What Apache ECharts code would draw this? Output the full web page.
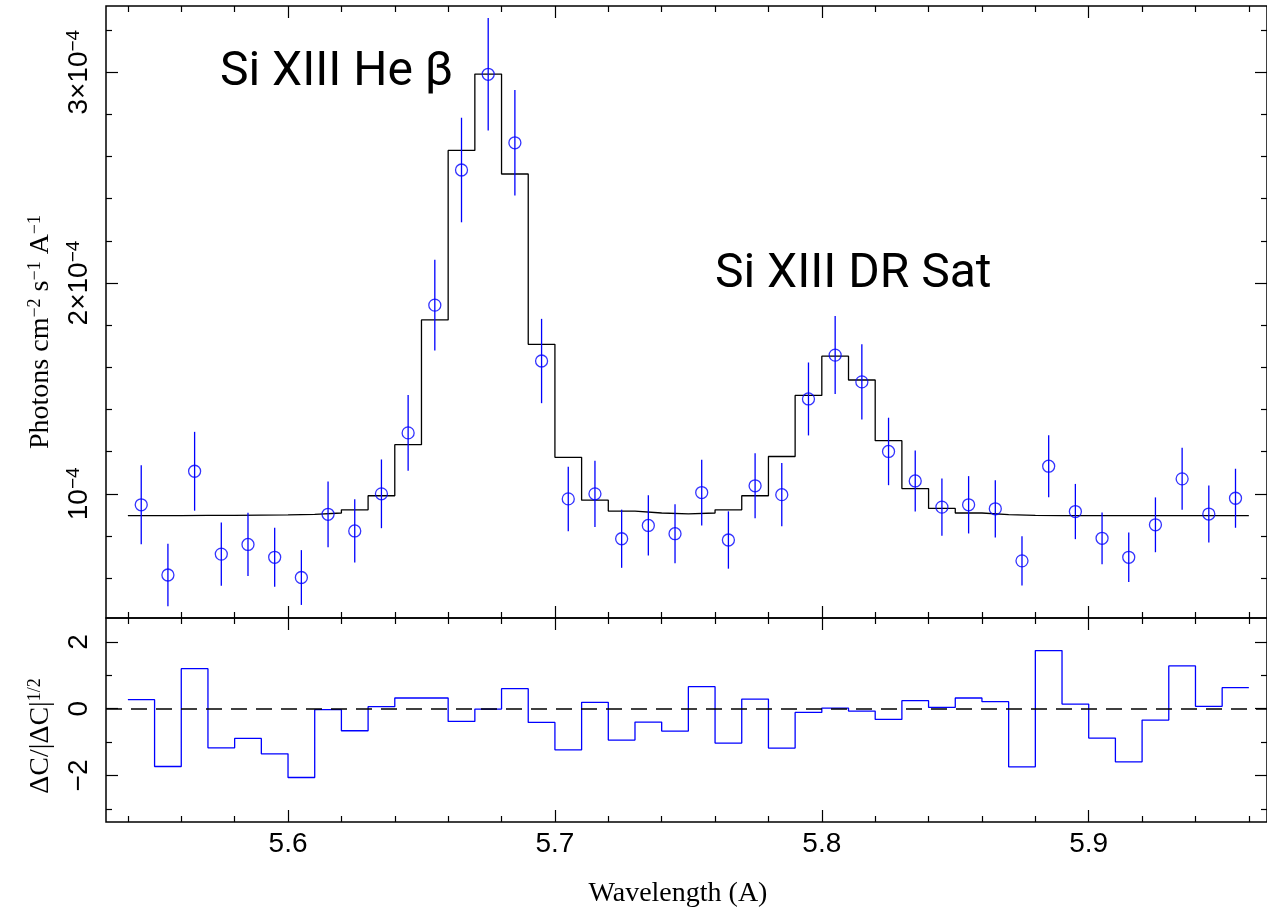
<!DOCTYPE html>
<html><head><meta charset="utf-8">
<script src="https://cdn.jsdelivr.net/npm/echarts@6/dist/echarts.min.js"></script>
<style>html,body{margin:0;padding:0;background:#fff}#c{width:1267px;height:912px}</style>
</head><body><div id="c"></div>
<script>
// ---------- data (flux in units of 1e-4 photons cm^-2 s^-1 A^-1) ----------
const binEdges = [5.54,5.55,5.56,5.57,5.58,5.59,5.60,5.61,5.62,5.63,5.64,5.65,5.66,5.67,5.68,5.69,5.70,5.71,5.72,5.73,5.74,5.75,5.76,5.77,5.78,5.79,5.80,5.81,5.82,5.83,5.84,5.85,5.86,5.87,5.88,5.89,5.90,5.91,5.92,5.93,5.94,5.95,5.96];
const wavelength = [5.545,5.555,5.565,5.575,5.585,5.595,5.605,5.615,5.625,5.635,5.645,5.655,5.665,5.675,5.685,5.695,5.705,5.715,5.725,5.735,5.745,5.755,5.765,5.775,5.785,5.795,5.805,5.815,5.825,5.835,5.845,5.855,5.865,5.875,5.885,5.895,5.905,5.915,5.925,5.935,5.945,5.955];
const flux = [0.948,0.615,1.107,0.714,0.760,0.699,0.603,0.903,0.824,1.000,1.289,1.895,2.536,2.990,2.665,1.630,0.976,1.000,0.787,0.850,0.811,1.006,0.781,1.038,0.996,1.450,1.658,1.531,1.201,1.061,0.937,0.948,0.929,0.682,1.131,0.916,0.789,0.699,0.853,1.071,0.904,0.979];
const fluxErr = [0.187,0.148,0.187,0.150,0.150,0.140,0.130,0.156,0.150,0.163,0.180,0.215,0.248,0.267,0.250,0.200,0.153,0.157,0.138,0.143,0.140,0.156,0.136,0.154,0.150,0.173,0.185,0.178,0.160,0.145,0.136,0.136,0.136,0.117,0.147,0.131,0.123,0.117,0.130,0.147,0.135,0.140];
const model = [0.897,0.897,0.898,0.898,0.899,0.900,0.903,0.909,0.924,0.991,1.233,1.825,2.629,2.991,2.517,1.709,1.173,0.970,0.918,0.909,0.905,0.909,0.924,0.991,1.177,1.467,1.653,1.540,1.252,1.025,0.931,0.909,0.901,0.898,0.897,0.897,0.897,0.897,0.897,0.897,0.897,0.897];
const residual = [0.27,-1.73,1.20,-1.17,-0.89,-1.35,-2.06,-0.03,-0.66,0.06,0.32,0.32,-0.38,-0.01,0.60,-0.41,-1.23,0.19,-0.94,-0.40,-0.67,0.66,-1.03,0.29,-1.18,-0.11,0.02,-0.07,-0.32,0.24,0.04,0.32,0.21,-1.74,1.74,0.14,-0.88,-1.59,-0.34,1.28,0.07,0.63];

// ---------- ticks ----------
const xMajorTicks = [5.6,5.7,5.8,5.9];
const xMinorTicks = [5.54,5.56,5.58,5.62,5.64,5.66,5.68,5.72,5.74,5.76,5.78,5.82,5.84,5.86,5.88,5.92,5.94,5.96];
const fluxMajorTicks = [1,2,3];
const fluxMinorTicks = [0.6,0.8,1.2,1.4,1.6,1.8,2.2,2.4,2.6,2.8,3.2];
const residMajorTicks = [-2,0,2];
const residMinorTicks = [-3,-1,1];
const fluxExponent = '−4';

const X_MIN = 5.5318, X_MAX = 5.9668;
const FLUX_MIN = 0.411, FLUX_MAX = 3.314;
const RES_MIN = -3.392, RES_MAX = 2.716;

const SANS = 'Liberation Sans', SERIF = 'Liberation Serif';
const BLUE = '#0000ff';
const tickStyle = {color:'#000', width:1.2};

function xAxisDef(grid, position, ticks, len, label) {
  const a = {type:'value', gridIndex:grid, position, min:X_MIN, max:X_MAX,
    axisLine:{show:false, onZero:false}, splitLine:{show:false},
    axisTick:{show:true, inside:true, length:len, customValues:ticks, lineStyle:tickStyle},
    axisLabel:{show:false}};
  if (label) a.axisLabel = {show:true, customValues:ticks, margin:8, color:'#000',
    fontFamily:SANS, fontSize:28, formatter:v=>v.toFixed(1)};
  return a;
}
function yAxisDef(grid, position, min, max, ticks, len, label) {
  const a = {type:'value', gridIndex:grid, position, min, max,
    axisLine:{show:false, onZero:false}, splitLine:{show:false},
    axisTick:{show:true, inside:true, length:len, customValues:ticks, lineStyle:tickStyle},
    axisLabel:{show:false}};
  if (label) a.axisLabel = Object.assign({show:true, customValues:ticks, margin:12, rotate:90}, label);
  return a;
}
const richLabel = {
  m:{fontFamily:SANS, fontSize:28, color:'#000', lineHeight:30},
  s:{fontFamily:SANS, fontSize:19, color:'#000', lineHeight:19, verticalAlign:'top'}
};
const fluxLabel = {formatter:v=>{const n=Math.round(v); return n===1?`{m|10}{s|${fluxExponent}}`:`{m|${n}×10}{s|${fluxExponent}}`;}, rich:richLabel};
const residLabel = {formatter:v=>{const n=Math.round(v); return `{m|${n<0?'−'+Math.abs(n):n}}`;}, rich:richLabel};

const gridStyle = {show:true, borderColor:'#000', borderWidth:1.5, backgroundColor:'transparent', outerBoundsMode:'none', containLabel:false};

const chart = echarts.init(document.getElementById('c'), null, {renderer:'canvas'});
chart.setOption({
  animation:false,
  backgroundColor:'#fff',
  grid:[
    Object.assign({left:106, top:6, width:1161, height:612}, gridStyle),
    Object.assign({left:106, top:618, width:1161, height:204}, gridStyle)
  ],
  xAxis:[
    xAxisDef(0,'bottom',xMajorTicks,12,false),
    xAxisDef(0,'bottom',xMinorTicks,6,false),
    xAxisDef(0,'top',xMajorTicks,12,false),
    xAxisDef(0,'top',xMinorTicks,6,false),
    xAxisDef(1,'bottom',xMajorTicks,12,true),
    xAxisDef(1,'bottom',xMinorTicks,6,false),
    xAxisDef(1,'top',xMajorTicks,12,false),
    xAxisDef(1,'top',xMinorTicks,6,false)
  ],
  yAxis:[
    yAxisDef(0,'left',FLUX_MIN,FLUX_MAX,fluxMajorTicks,12,fluxLabel),
    yAxisDef(0,'left',FLUX_MIN,FLUX_MAX,fluxMinorTicks,6,null),
    yAxisDef(0,'right',FLUX_MIN,FLUX_MAX,fluxMajorTicks,12,null),
    yAxisDef(0,'right',FLUX_MIN,FLUX_MAX,fluxMinorTicks,6,null),
    yAxisDef(1,'left',RES_MIN,RES_MAX,residMajorTicks,12,residLabel),
    yAxisDef(1,'left',RES_MIN,RES_MAX,residMinorTicks,6,null),
    yAxisDef(1,'right',RES_MIN,RES_MAX,residMajorTicks,12,null),
    yAxisDef(1,'right',RES_MIN,RES_MAX,residMinorTicks,6,null)
  ],
  series:[
    {type:'line', name:'model', xAxisIndex:0, yAxisIndex:0, step:'end', symbol:'none', silent:true,
      data: binEdges.map((e,i)=>[e, model[Math.min(i, model.length-1)]]),
      lineStyle:{color:'#000', width:1.3}, z:2},
    {type:'custom', name:'errors', xAxisIndex:0, yAxisIndex:0, silent:true,
      data: wavelength.map((w,i)=>[w, flux[i], fluxErr[i]]),
      encode:{x:0, y:1},
      renderItem:(params, api)=>{
        const x=api.value(0), y=api.value(1), e=api.value(2);
        const p1=api.coord([x,y-e]), p2=api.coord([x,y+e]);
        return {type:'line', shape:{x1:p1[0],y1:p1[1],x2:p2[0],y2:p2[1]}, style:{stroke:BLUE, lineWidth:1.3}};
      }, z:3},
    {type:'scatter', name:'data', xAxisIndex:0, yAxisIndex:0, silent:true,
      data: wavelength.map((w,i)=>[w, flux[i]]),
      symbol:'circle', symbolSize:12,
      itemStyle:{color:'rgba(0,0,0,0)', borderColor:BLUE, borderWidth:1.3}, z:4},
    {type:'line', name:'residual', xAxisIndex:4, yAxisIndex:4, step:'end', symbol:'none', silent:true,
      data: binEdges.map((e,i)=>[e, residual[Math.min(i, residual.length-1)]]),
      lineStyle:{color:BLUE, width:1.3}, z:3,
      markLine:{silent:true, symbol:'none', label:{show:false},
        lineStyle:{color:'#000', type:[16,9], width:1.5}, data:[{yAxis:0}]}}
  ],
  graphic:[
    {type:'text', x:220, y:73, style:{text:'Si XIII He β', fontFamily:'Roboto', fontSize:48, fill:'#000', align:'left', verticalAlign:'middle'}},
    {type:'text', x:715, y:275, style:{text:'Si XIII DR Sat', fontFamily:'Roboto', fontSize:48, fill:'#000', align:'left', verticalAlign:'middle'}},
    {type:'text', x:41, y:332, rotation:Math.PI/2, style:{
      text:'{n|Photons cm}{s|−2}{n| s}{s|−1}{n| A}{s|−1}', align:'center', verticalAlign:'middle',
      rich:{n:{fontFamily:SERIF, fontSize:28, fill:'#000', lineHeight:30}, s:{fontFamily:SERIF, fontSize:18, fill:'#000', lineHeight:18, verticalAlign:'top'}}}},
    {type:'text', x:41, y:736, rotation:Math.PI/2, style:{
      text:'{n|ΔC/|ΔC|}{s|1/2}', align:'center', verticalAlign:'middle',
      rich:{n:{fontFamily:SERIF, fontSize:28, fill:'#000', lineHeight:30}, s:{fontFamily:SERIF, fontSize:18, fill:'#000', lineHeight:18, verticalAlign:'top'}}}},
    {type:'text', x:678, y:894, style:{text:'Wavelength (A)', fontFamily:SERIF, fontSize:28, fill:'#000', align:'center', verticalAlign:'middle'}}
  ]
});
</script></body></html>
